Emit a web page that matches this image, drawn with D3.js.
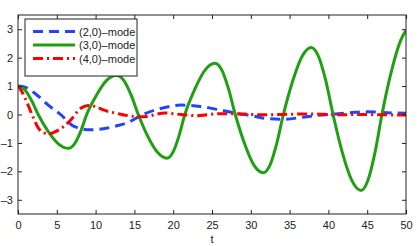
<!DOCTYPE html>
<html>
<head>
<meta charset="utf-8">
<script src="https://cdn.jsdelivr.net/npm/d3@7"></script>
<style>
  body { margin: 0; background: #fff; }
  svg text { font-family: "Liberation Sans", Arial, sans-serif; fill: #222; }
</style>
</head>
<body>
<div id="chart"></div>
<script>
  // (2,0)-mode
  const t20 = [0, 1, 2.2, 3.9, 5.4, 7.3, 9.3, 11, 13.1, 14, 16.1, 18.5, 21, 23.5, 26, 28.2, 30, 32, 34.2, 36.6, 38.7, 40.9, 42.8, 44.9, 47, 50];
  const v20 = [1.0, 0.95, 0.74, 0.33, 0.02, -0.43, -0.54, -0.5, -0.37, -0.3, 0, 0.22, 0.33, 0.28, 0.16, 0.04, -0.04, -0.14, -0.17, -0.1, -0.03, 0.02, 0.06, 0.1, 0.07, 0.04];

  // (3,0)-mode
  const t30 = [0, 0.87, 1.73, 2.6, 3.9, 5.2, 6.5, 7.28, 8.07, 8.85, 10.13, 11.42, 12.7, 13.63, 14.57, 15.5, 16.73, 17.97, 19.2, 19.97, 20.73, 21.5, 22.8, 24.1, 25.4, 26.27, 27.13, 28.0, 29.2, 30.4, 31.6, 32.47, 33.33, 34.2, 35.4, 36.6, 37.8, 38.73, 39.67, 40.6, 41.8, 43.0, 44.2, 45.1, 46.0, 46.9, 48.1, 49.3, 50];
  const v30 = [1.0, 0.87, 0.5, 0, -0.6, -1.03, -1.19, -1.03, -0.6, 0, 0.69, 1.2, 1.38, 1.2, 0.69, 0, -0.77, -1.33, -1.54, -1.33, -0.77, 0, 0.9, 1.56, 1.8, 1.56, 0.9, 0, -1.03, -1.78, -2.05, -1.78, -1.03, 0, 1.18, 2.04, 2.36, 2.04, 1.18, 0, -1.34, -2.31, -2.67, -2.31, -1.34, 0, 1.5, 2.6, 2.96];

  // (4,0)-mode
  const t40 = [0, 0.5, 1.3, 2, 2.8, 3.9, 5.2, 6.7, 8, 9.1, 10, 11, 12.9, 14.4, 16, 19, 21, 23, 26, 28, 30, 32, 35, 38, 41, 44, 47, 50];
  const v40 = [1.0, 0.8, 0.33, -0.13, -0.54, -0.68, -0.55, -0.22, 0.2, 0.32, 0.28, 0.16, 0.03, -0.05, -0.08, 0.05, 0.0, -0.04, 0.03, 0.03, 0.0, -0.01, 0.01, 0.02, -0.01, 0.0, -0.01, -0.02];

  const labels = ["(2,0)\u2013mode", "(3,0)\u2013mode", "(4,0)\u2013mode"];
  const xTicks = [0, 5, 10, 15, 20, 25, 30, 35, 40, 45, 50];
  const yTicks = [-3, -2, -1, 0, 1, 2, 3];

  const width = 417, height = 246;
  const margin = { top: 15, right: 11, bottom: 32, left: 18 };
  const w = width - margin.left - margin.right;
  const h = height - margin.top - margin.bottom;

  const svg = d3.select("#chart").append("svg")
      .attr("width", width)
      .attr("height", height);

  const g = svg.append("g")
      .attr("transform", `translate(${margin.left},${margin.top})`);

  const x = d3.scaleLinear().domain([0, 50]).range([0, w]);
  const y = d3.scaleLinear().domain([-3.5, 3.5]).range([h, 0]);

  g.append("clipPath").attr("id", "clip")
    .append("rect").attr("width", w).attr("height", h);

  const series = [
    { t: t20, v: v20, color: "#2244ff", dash: "10,6" },
    { t: t30, v: v30, color: "#1ea012", dash: null },
    { t: t40, v: v40, color: "#ff0000", dash: "10,4,2,4" }
  ];

  const line = d3.line()
      .x(d => x(d[0]))
      .y(d => y(d[1]))
      .curve(d3.curveMonotoneX);

  const plot = g.append("g").attr("clip-path", "url(#clip)");
  series.forEach(s => {
    plot.append("path")
        .datum(s.t.map((t, i) => [t, s.v[i]]))
        .attr("fill", "none")
        .attr("stroke", s.color)
        .attr("stroke-width", 3)
        .attr("stroke-dasharray", s.dash)
        .attr("d", line);
  });

  // axes, ticks pointing inward on all sides
  const fmt = d => d < 0 ? "\u2013" + Math.abs(d) : String(d);
  const axStyle = sel => {
    sel.select(".domain").remove();
    sel.selectAll("line").attr("stroke", "#222");
    sel.selectAll("text").attr("font-size", 11).attr("fill", "#222")
       .attr("font-family", "Liberation Sans, Arial, sans-serif");
  };

  g.append("g").attr("transform", `translate(0,${h})`)
    .call(d3.axisBottom(x).tickValues(xTicks).tickSizeInner(-4).tickSizeOuter(0).tickPadding(7))
    .call(axStyle);
  g.append("g")
    .call(d3.axisTop(x).tickValues(xTicks).tickSizeInner(-4).tickSizeOuter(0).tickFormat(""))
    .call(axStyle);
  g.append("g")
    .call(d3.axisLeft(y).tickValues(yTicks).tickSizeInner(-4).tickSizeOuter(0).tickPadding(5).tickFormat(fmt))
    .call(axStyle);
  g.append("g").attr("transform", `translate(${w},0)`)
    .call(d3.axisRight(y).tickValues(yTicks).tickSizeInner(-4).tickSizeOuter(0).tickFormat(""))
    .call(axStyle);

  g.append("rect")
      .attr("width", w).attr("height", h)
      .attr("fill", "none").attr("stroke", "#222").attr("stroke-width", 1);

  g.append("text")
      .attr("x", w / 2).attr("y", h + 29)
      .attr("text-anchor", "middle")
      .attr("font-size", 11)
      .text("t");

  // legend
  const legend = g.append("g").attr("transform", "translate(7,4)");
  legend.append("rect")
      .attr("width", 112).attr("height", 57)
      .attr("fill", "#fff").attr("stroke", "#222").attr("stroke-width", 1);
  series.forEach((s, i) => {
    const ly = 12.5 + i * 13.5;
    legend.append("line")
        .attr("x1", 8).attr("x2", 50).attr("y1", ly).attr("y2", ly)
        .attr("stroke", s.color).attr("stroke-width", 3)
        .attr("stroke-dasharray", s.dash);
    legend.append("text")
        .attr("x", 54).attr("y", ly + 4)
        .attr("font-size", 11)
        .text(labels[i]);
  });
</script>
</body>
</html>
